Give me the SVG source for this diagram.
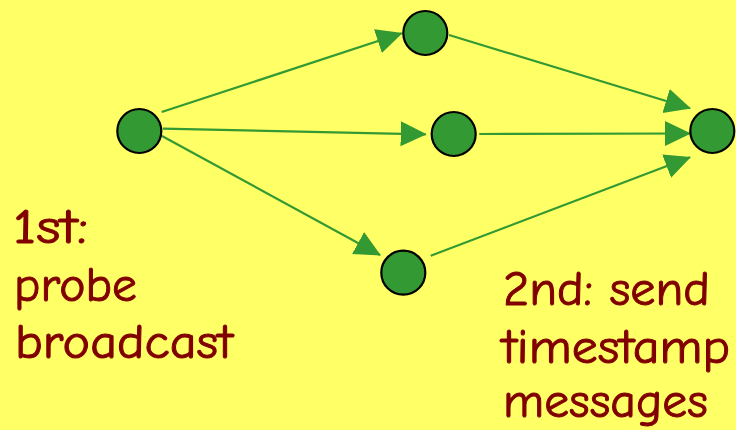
<svg xmlns="http://www.w3.org/2000/svg" width="736" height="430" viewBox="0 0 736 430">
<style>
.node{fill:#339933;stroke:#000;stroke-width:2.2}
.edge{stroke:#339933;stroke-width:2.2;fill:none;marker-end:url(#arr)}
.lbl{font-family:"Comic Sans MS","Comic Neue","DejaVu Sans",sans-serif;font-size:48px;fill:#800000;stroke:#800000;stroke-width:1}
</style>
<defs>
<marker id="arr" markerUnits="userSpaceOnUse" markerWidth="26" markerHeight="26" refX="25" refY="12.5" orient="auto">
<path d="M0,0 L26,12.5 L0,25 Z" fill="#339933"/>
</marker>
</defs>
<rect width="736" height="430" fill="#FFFF66"/>
<g id="connectors">
<line class="edge" x1="161.7" y1="112" x2="401.7" y2="33.3"/>
<line class="edge" x1="162.7" y1="128.7" x2="425.7" y2="134.3"/>
<line class="edge" x1="162" y1="136" x2="380" y2="255"/>
<line class="edge" x1="449" y1="35" x2="690" y2="108.3"/>
<line class="edge" x1="479.3" y1="134" x2="690" y2="133.5"/>
<line class="edge" x1="430.7" y1="255.7" x2="690" y2="157.3"/>
</g>
<g id="n-source"><circle class="node" cx="139.3" cy="131" r="22"/></g>
<g id="n-top"><circle class="node" cx="425.3" cy="33" r="22"/></g>
<g id="n-mid"><circle class="node" cx="453.7" cy="134" r="22"/></g>
<g id="n-bottom"><circle class="node" cx="403.3" cy="272.7" r="22"/></g>
<g id="n-sink"><circle class="node" cx="712.3" cy="131" r="22"/></g>
<g id="label-1">
<text class="lbl" x="13" y="243" textLength="75" lengthAdjust="spacingAndGlyphs">1st:</text>
<text class="lbl" x="14" y="301" textLength="123" lengthAdjust="spacingAndGlyphs">probe</text>
<text class="lbl" x="15" y="358" textLength="218" lengthAdjust="spacingAndGlyphs">broadcast</text>
</g>
<g id="label-2">
<text class="lbl" x="503" y="305" textLength="207" lengthAdjust="spacingAndGlyphs">2nd: send</text>
<text class="lbl" x="502" y="363" textLength="228" lengthAdjust="spacingAndGlyphs">timestamp</text>
<text class="lbl" x="503" y="417" textLength="205" lengthAdjust="spacingAndGlyphs">messages</text>
</g>
</svg>
